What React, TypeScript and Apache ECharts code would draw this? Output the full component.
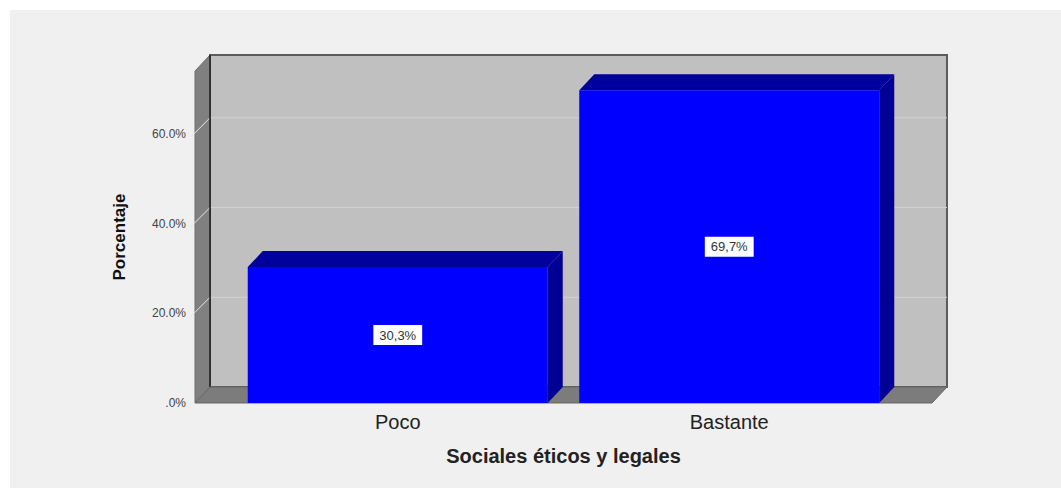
import React, { useEffect, useRef } from "react";
import * as echarts from "echarts";

const categories = ["Poco", "Bastante"];
const percentages = [30.3, 69.7];
const valueLabels = ["30,3%", "69,7%"];
const yTicks = [0, 20, 40, 60];
const yTickLabels = [".0%", "20.0%", "40.0%", "60.0%"];
const xTitle = "Sociales éticos y legales";
const yTitle = "Porcentaje";

const DX = 15;
const DY = -16;
const WALL_PAD = 37;
const BAR_RATIO = 0.905;
const FONT = "'Liberation Sans', Arial, sans-serif";

export default function App() {
  const ref = useRef<HTMLDivElement>(null);

  useEffect(() => {
    if (!ref.current) return;
    const chart = echarts.init(ref.current, undefined, { renderer: "svg" });

    const wallsRender = (params: any, api: any) => {
      const cs = params.coordSys;
      const fl = cs.x - WALL_PAD;
      const fr = cs.x + cs.width + WALL_PAD;
      const fb = api.coord([0, 0])[1];
      const ft = cs.y;
      const children: any[] = [];
      // back wall
      children.push({
        type: "rect",
        shape: { x: fl + DX, y: ft + DY, width: fr - fl, height: fb - ft },
        style: { fill: "#c0c0c0", stroke: "#5c5c5c", lineWidth: 2 },
      });
      // back wall grid lines
      yTicks.forEach((t) => {
        if (t === 0) return;
        const y = api.coord([0, t])[1];
        children.push({
          type: "line",
          shape: { x1: fl + DX, y1: y + DY, x2: fr + DX, y2: y + DY },
          style: { stroke: "#d2d2d2", lineWidth: 1 },
        });
      });
      // left side wall
      children.push({
        type: "polygon",
        shape: {
          points: [
            [fl, ft],
            [fl + DX, ft + DY],
            [fl + DX, fb + DY],
            [fl, fb],
          ],
        },
        style: { fill: "#808080", stroke: "#6e6e6e", lineWidth: 1 },
      });
      // side wall grid lines
      yTicks.forEach((t) => {
        if (t === 0) return;
        const y = api.coord([0, t])[1];
        children.push({
          type: "line",
          shape: { x1: fl - 4, y1: y + 3, x2: fl + DX, y2: y + DY },
          style: { stroke: "#e6e6e6", lineWidth: 1 },
        });
      });
      // dark edge between side wall and back wall
      children.push({
        type: "line",
        shape: { x1: fl + DX, y1: ft + DY, x2: fl + DX, y2: fb + DY },
        style: { stroke: "#1e1e1e", lineWidth: 1.5 },
      });
      // floor
      children.push({
        type: "polygon",
        shape: {
          points: [
            [fl, fb],
            [fl + DX, fb + DY],
            [fr + DX, fb + DY],
            [fr, fb],
          ],
        },
        style: { fill: "#7c7c7c", stroke: "#666666", lineWidth: 1 },
      });
      return { type: "group", children };
    };

    const barRender = (params: any, api: any) => {
      const idx = api.value(0);
      const val = api.value(1);
      const top = api.coord([idx, val]);
      const base = api.coord([idx, 0]);
      const w = api.size([1, 0])[0] * BAR_RATIO;
      const x0 = top[0] - w / 2;
      const x1 = top[0] + w / 2;
      const yt = top[1];
      const yb = base[1];
      return {
        type: "group",
        children: [
          {
            type: "polygon",
            shape: {
              points: [
                [x1, yt],
                [x1 + DX, yt + DY],
                [x1 + DX, yb + DY],
                [x1, yb],
              ],
            },
            style: { fill: "#000094" },
          },
          {
            type: "polygon",
            shape: {
              points: [
                [x0, yt],
                [x0 + DX, yt + DY],
                [x1 + DX, yt + DY],
                [x1, yt],
              ],
            },
            style: { fill: "#00009c" },
          },
          {
            type: "rect",
            shape: { x: x0, y: yt, width: w, height: yb - yt },
            style: { fill: "#0000ff" },
          },
          {
            type: "text",
            style: {
              text: valueLabels[params.dataIndex],
              x: top[0],
              y: (yt + yb) / 2,
              align: "center",
              verticalAlign: "middle",
              fill: "#333333",
              font: `13px ${FONT}`,
              backgroundColor: "#ffffff",
              padding: [4, 6, 3, 6],
            },
          },
        ],
      };
    };

    chart.setOption({
      animation: false,
      backgroundColor: "#ffffff",
      graphic: [
        {
          type: "rect",
          left: 10,
          top: 10,
          shape: { width: 1051, height: 478 },
          style: { fill: "#f0f0f0" },
          z: -10,
        },
      ],
      grid: { left: 232, right: 166, top: 71, bottom: 85 },
      xAxis: {
        type: "category",
        data: categories,
        axisLine: { show: false },
        axisTick: { show: false },
        axisLabel: {
          color: "#222222",
          fontSize: 20,
          fontFamily: FONT,
          margin: 9,
        },
        name: xTitle,
        nameLocation: "middle",
        nameGap: 43,
        nameTextStyle: {
          color: "#222222",
          fontSize: 20,
          fontWeight: "bold",
          fontFamily: FONT,
        },
      },
      yAxis: {
        type: "value",
        min: 0,
        max: 74,
        interval: 20,
        axisLine: { show: false },
        axisTick: { show: false },
        splitLine: { show: false },
        axisLabel: {
          color: "#444444",
          fontSize: 12,
          fontFamily: FONT,
          margin: 46,
          formatter: (v: number) => {
            const i = yTicks.indexOf(v);
            return i >= 0 ? yTickLabels[i] : "";
          },
        },
        name: yTitle,
        nameLocation: "middle",
        nameRotate: 90,
        nameGap: 104,
        nameTextStyle: {
          color: "#111111",
          fontSize: 17,
          fontWeight: "bold",
          fontFamily: FONT,
        },
      },
      series: [
        {
          type: "custom",
          z: 1,
          clip: false,
          silent: true,
          renderItem: wallsRender,
          data: [[0, 0]],
        },
        {
          type: "custom",
          z: 2,
          clip: false,
          renderItem: barRender,
          data: percentages.map((v, i) => [i, v]),
        },
      ],
    });

    return () => chart.dispose();
  }, []);

  return (
    <div
      ref={ref}
      style={{ position: "absolute", left: 0, top: 0, width: 1061, height: 488 }}
    />
  );
}
